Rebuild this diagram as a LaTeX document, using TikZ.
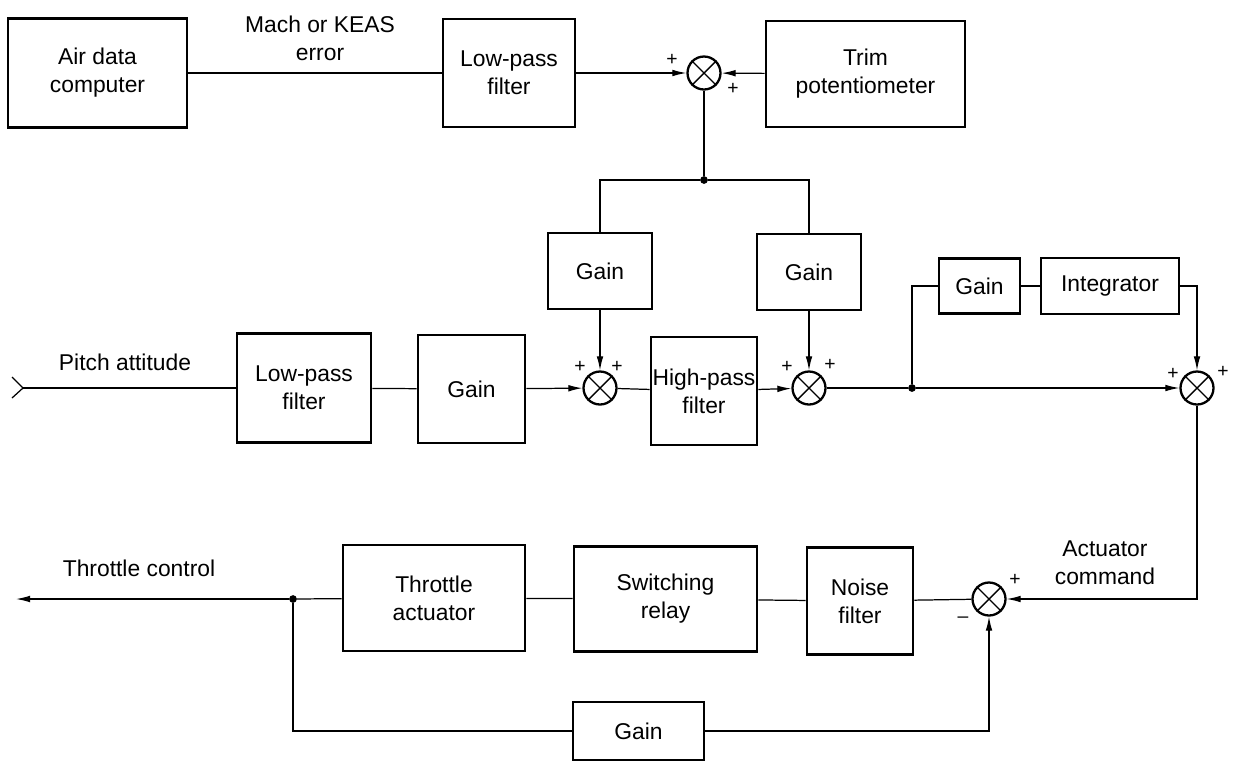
\documentclass[tikz,border=0pt]{standalone}
\usepackage{fontspec}
\setmainfont{Liberation Sans}
\usepackage{tikz}
\usetikzlibrary{arrows.meta}
\tikzset{
    block/.style={draw,line width=1.5pt,align=center,inner sep=0pt},
    summer/.style={draw,circle,line width=1.3pt,minimum size=0.66cm,inner sep=0pt},
    junc/.style={circle,fill,inner sep=0pt,minimum size=4.4pt},
    link/.style={line width=0.7pt},
    signal/.style={link,-{Latex[length=8pt,width=3.8pt]}},
    sign/.style={font=\fontsize{11}{13}\selectfont,inner sep=0pt},
    lbl/.style={align=center,inner sep=0pt}
}
\newcommand{\crossit}[1]{\draw[line width=0.8pt] (#1.north west)--(#1.south east) (#1.north east)--(#1.south west);}
\begin{document}
\begin{tikzpicture}[x=0.02cm,y=-0.02cm,font=\fontsize{13}{16}\selectfont]
\useasboundingbox (0,0) rectangle (1238,762);
% top row
\node[block,minimum width=3.58cm,minimum height=2.18cm] (adc) at (97.5,73) {Air data\\computer};
\node[block,minimum width=2.64cm,minimum height=2.16cm] (lpfa) at (509,73) {Low-pass\\filter};
\node[summer] (suma) at (704,73) {};
\node[block,minimum width=3.98cm,minimum height=2.12cm] (trim) at (865.5,74) {Trim\\potentiometer};
\node[junc] (dota) at (704,180) {};
\node[block,minimum width=2.08cm,minimum height=1.52cm] (gainb) at (600,271) {Gain};
\node[block,minimum width=2.08cm,minimum height=1.52cm] (gainc) at (809,272) {Gain};
% middle row
\coordinate (pin) at (23,388);
\node[block,minimum width=2.68cm,minimum height=2.18cm] (lpfb) at (304,388) {Low-pass\\filter};
\node[block,minimum width=2.14cm,minimum height=2.16cm] (gaina) at (471.5,389) {Gain};
\node[summer] (sumb) at (600,388) {};
\node[block,minimum width=2.12cm,minimum height=2.16cm] (hpf) at (704,391) {High-pass\\filter};
\node[summer] (sumc) at (809,388) {};
\node[junc] (dotb) at (912,388) {};
\node[block,minimum width=1.62cm,minimum height=1.1cm] (gaind) at (979.5,286) {Gain};
\node[block,minimum width=2.76cm,minimum height=1.12cm] (integ) at (1110,286) {Integrator};
\node[summer] (sumd) at (1197,388) {};
% bottom row
\node[summer] (sume) at (989,599) {};
\node[block,minimum width=2.12cm,minimum height=2.14cm] (noise) at (860,601) {Noise\\filter};
\node[block,minimum width=3.66cm,minimum height=2.1cm] (relay) at (665.5,599) {Switching\\relay};
\node[block,minimum width=3.64cm,minimum height=2.12cm] (thra) at (434,598) {Throttle\\actuator};
\node[junc] (dotc) at (293,599) {};
\coordinate (tout) at (16,599);
\node[block,minimum width=2.62cm,minimum height=1.16cm] (gaine) at (638.5,731) {Gain};
% summing junction crosses
\crossit{suma}
\crossit{sumb}
\crossit{sumc}
\crossit{sumd}
\crossit{sume}
% connections
\draw[link] (adc)--(lpfa);
\draw[signal] (lpfa)--(suma);
\draw[signal] (trim)--(suma);
\draw[link] (suma)--(dota);
\draw[link] (dota)-|(gainb);
\draw[link] (dota)-|(gainc);
\draw[signal] (gainb)--(sumb);
\draw[signal] (gainc)--(sumc);
\draw[link] (12,377)--(pin)--(12,398);
\draw[link] (pin)--(lpfb);
\draw[link] (lpfb)--(gaina);
\draw[signal] (gaina)--(sumb);
\draw[link] (sumb)--(hpf);
\draw[signal] (hpf)--(sumc);
\draw[link] (sumc)--(dotb);
\draw[signal] (dotb)--(sumd);
\draw[link] (dotb)|-(gaind);
\draw[link] (gaind)--(integ);
\draw[signal] (integ)-|(sumd);
\draw[signal] (sumd)|-(sume);
\draw[link] (sume)--(noise);
\draw[link] (noise)--(relay);
\draw[link] (relay)--(thra);
\draw[link] (thra)--(dotc);
\draw[signal] (dotc)--(tout);
\draw[link] (dotc)|-(gaine);
\draw[signal] (gaine)-|(sume);
% labels
\node[lbl] (mach) at (320,38) {Mach or KEAS\\error};
\node[lbl] (pitch) at (125,362) {Pitch attitude};
\node[lbl] (thrc) at (139,568) {Throttle control};
\node[lbl] (actc) at (1105,563) {Actuator\\command};
\node[sign] at (672,60) {+};
\node[sign] at (733,89) {+};
\node[sign] at (580,367) {+};
\node[sign] at (617,367) {+};
\node[sign] at (787,367) {+};
\node[sign] at (830,365) {+};
\node[sign] at (1173,374) {+};
\node[sign] at (1223,372) {+};
\node[sign] at (1015,580) {+};
\node[sign] at (963,620) {--};
\end{tikzpicture}
\end{document}
